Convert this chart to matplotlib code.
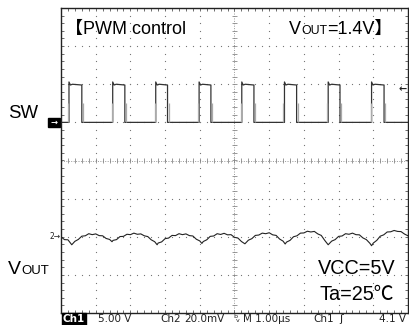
import matplotlib.pyplot as plt
from matplotlib.patches import Rectangle
import numpy as np

# scope settings (1 us/div, SW 5 V/div, VOUT 20 mV/div)
sw_offset_div = 1.0
sw_scale = 5.0
vout_offset_div = -2.0
vout_scale = 20.0

# SW switching node: edge times (us)
sw_rise = [0.23, 1.49, 2.73, 3.98, 5.21, 6.44, 7.70, 8.95]
sw_fall = [0.60, 1.84, 3.07, 4.32, 5.56, 6.79, 8.04, 9.31]
sw_high = 5.0
sw_peak = 5.3

# VOUT ripple (AC, mV)
vout_t = [0.0, 0.1, 0.2, 0.31, 0.4, 0.5, 0.6, 0.7, 0.8, 0.9, 1.0, 1.1, 1.2, 1.3, 1.4,
          1.47, 1.5, 1.6, 1.7, 1.8, 1.9, 2.0, 2.1, 2.2, 2.3, 2.4, 2.5, 2.6, 2.7,
          2.77, 2.8, 2.9, 3.0, 3.1, 3.2, 3.3, 3.4, 3.5, 3.6, 3.7, 3.8, 3.9, 4.0,
          4.06, 4.1, 4.2, 4.3, 4.4, 4.5, 4.6, 4.7, 4.8, 4.9, 5.0, 5.1, 5.2,
          5.3, 5.4, 5.5, 5.6, 5.7, 5.8, 5.9, 6.0, 6.1, 6.2, 6.3, 6.4,
          6.46, 6.5, 6.6, 6.7, 6.8, 6.9, 7.0, 7.1, 7.2, 7.3, 7.4, 7.5, 7.6,
          7.7, 7.8, 7.9, 8.0, 8.1, 8.2, 8.3, 8.4, 8.5, 8.6, 8.7, 8.8, 8.9,
          8.95, 9.0, 9.1, 9.2, 9.3, 9.4, 9.5, 9.6, 9.7, 9.8, 9.9, 10.0]
vout_mv = [0.0, -1.5, -1.6, -4.2, -2.4, -1.4, 0.3, 0.5, 1.6, 1.1, 1.5, 0.6, 0.5, -0.9, -1.4,
           -2.6, -1.9, -1.5, 0.1, 0.2, 1.3, 1.1, 1.9, 1.3, 1.5, 0.5, 0.1, -1.6, -2.6,
           -4.2, -3.3, -2.7, -1.0, -0.7, 0.7, 0.6, 1.6, 1.1, 1.5, 0.6, 0.4, -1.3, -2.2,
           -3.5, -2.5, -1.6, 0.2, 0.4, 1.6, 1.2, 1.8, 1.0, 1.1, -0.3, -0.7, -2.5,
           -3.7, -1.8, -1.0, 0.7, 0.9, 1.9, 1.6, 2.1, 1.0, 0.7, -1.2, -2.3,
           -3.8, -2.8, -1.9, 0.0, 0.5, 1.9, 2.0, 2.9, 2.5, 2.8, 1.5, 0.7, -1.9,
           -4.2, -2.3, -1.5, 0.2, 0.4, 1.6, 1.3, 1.9, 1.1, 1.0, -0.6, -1.5, -3.4,
           -4.7, -3.3, -1.9, 0.3, 1.0, 2.5, 2.6, 3.3, 2.8, 2.7, 1.4, 0.5]

status_items = [("5.00 V", 98), ("Ch2", 160), ("20.0mV", 184), ("M 1.00µs", 243),
                ("Ch1", 313), ("4.1 V", 379)]

W, H = 410, 325
fig = plt.figure(figsize=(W / 100, H / 100), dpi=100)
ax = fig.add_axes([61 / W, 12 / H, 347 / W, 305 / H])
ax.set_xlim(0, 10)
ax.set_ylim(-4, 4)
ax.set_xticks([])
ax.set_yticks([])
for s in ax.spines.values():
    s.set_linewidth(1.0)
    s.set_color('#222')

# graticule
minor_x = np.arange(0, 10.001, 0.2)
minor_y = np.arange(-4, 4.001, 0.2)
for gy in [-3, -2, -1, 1, 2, 3]:
    ax.plot(minor_x, np.full_like(minor_x, gy), ls='none', marker='s', ms=0.8,
            mew=0, color='#777')
for gx in [1, 2, 3, 4, 6, 7, 8, 9]:
    ax.plot(np.full_like(minor_y, gx), minor_y, ls='none', marker='s', ms=0.8,
            mew=0, color='#777')
ax.axhline(0, color='#999', lw=0.7, ls=(0, (1, 1.5)))
ax.axvline(5, color='#999', lw=0.7, ls=(0, (1, 1.5)))
ax.vlines(minor_x, -0.07, 0.07, color='#888', lw=0.6)
ax.hlines(minor_y, 4.92, 5.08, color='#888', lw=0.6)
ax.vlines(minor_x, 3.92, 4, color='#555', lw=0.6)
ax.vlines(minor_x, -4, -3.92, color='#555', lw=0.6)
ax.hlines(minor_y, 0, 0.08, color='#555', lw=0.6)
ax.hlines(minor_y, 9.92, 10, color='#555', lw=0.6)

# SW trace
sw_t = [0.0]
sw_v = [0.0]
for r, f in zip(sw_rise, sw_fall):
    sw_t += [r, r, r + 0.04, r + 0.1, f, f]
    sw_v += [0.0, sw_peak, sw_high - 0.1, sw_high, sw_high - 0.1, 0.0]
sw_t.append(10.0)
sw_v.append(0.0)
sw_y = sw_offset_div + np.array(sw_v) / sw_scale
ax.plot(sw_t, sw_y, color='#333', lw=0.9)
mid = sw_offset_div + sw_high / 2 / sw_scale
ax.vlines(np.array(sw_rise) - 0.03, sw_offset_div, mid, color='#aaa', lw=0.9)
ax.vlines(np.array(sw_fall) + 0.03, sw_offset_div, mid, color='#aaa', lw=0.9)

# VOUT trace
ax.plot(vout_t, vout_offset_div + np.array(vout_mv) / vout_scale, color='#222', lw=0.8)

# ground / trigger markers
ax.add_patch(Rectangle((-0.38, sw_offset_div - 0.12), 0.34, 0.24, fc='black',
                       ec='black', clip_on=False, transform=ax.transData))
ax.text(-0.21, sw_offset_div, '→', color='white', fontsize=6, fontweight='bold',
        ha='center', va='center', clip_on=False)
ax.text(-0.02, vout_offset_div, '2→', color='#222', fontsize=5.5,
        ha='right', va='center', clip_on=False)
ax.text(9.97, 1.86, '←', color='#222', fontsize=7, fontweight='bold',
        ha='right', va='center')


def px(x, y):
    return x / W, 1 - y / H


fam = ['Liberation Sans', 'Noto Sans CJK JP']
fig.text(*px(65, 34), '【PWM control', fontsize=13, family=fam, va='baseline')
fig.text(*px(289, 34), 'V', fontsize=13, family=fam, va='baseline')
fig.text(*px(301, 34), 'OUT', fontsize=8.8, family=fam, va='baseline')
fig.text(*px(327, 34), '=1.4V】', fontsize=13, family=fam, va='baseline')
fig.text(*px(8, 118), 'SW', fontsize=13.4, family=fam, va='baseline')
fig.text(*px(8, 274), 'V', fontsize=14, family=fam, va='baseline')
fig.text(*px(21.5, 274), 'OUT', fontsize=9.5, family=fam, va='baseline')
fig.text(*px(318, 274), 'VCC=5V', fontsize=14.3, family=fam, va='baseline')
fig.text(*px(320, 300), 'Ta=25℃', fontsize=14.3, family=fam, va='baseline')

# status bar
fig.text(*px(63, 319.5), 'Ch1', fontsize=7.5, color='white', fontweight='bold',
         va='center', bbox=dict(boxstyle='square,pad=0.1', fc='black', ec='black'))
for txt, x in status_items:
    fig.text(*px(x, 319.5), txt, fontsize=7.5, color='#222', va='center')
fig.text(*px(233, 317), 'b', fontsize=4.5, color='#222', va='center')
fig.text(*px(236, 321), 'v', fontsize=4.5, color='#222', va='center')
fig.text(*px(339, 319.5), 'ʃ', fontsize=8, color='#222', va='center')

fig.savefig('out.png', dpi=100)
